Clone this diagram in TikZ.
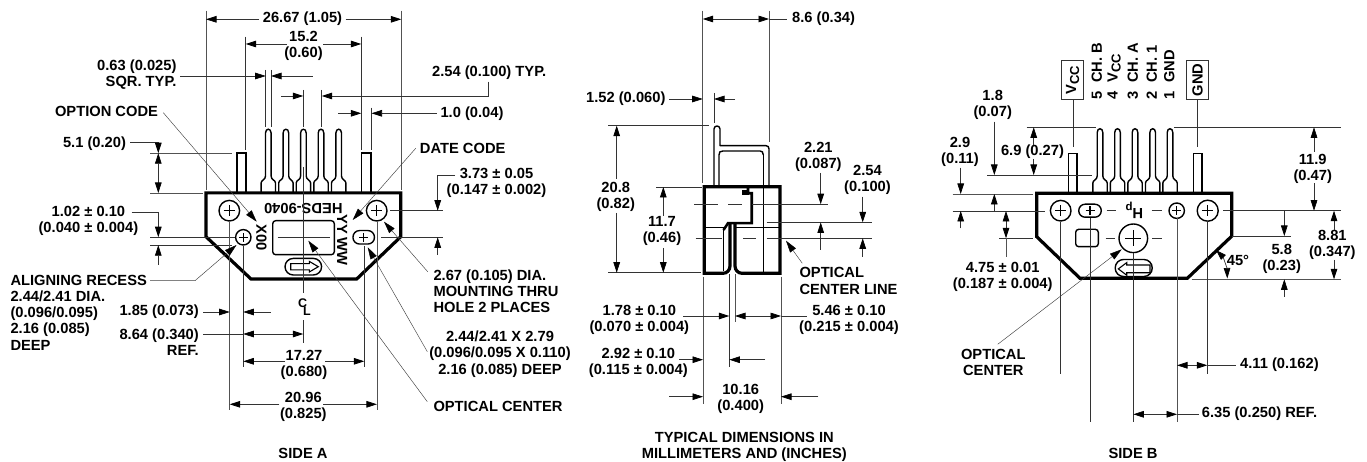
\documentclass[tikz,border=0pt]{standalone}
\usepackage{fontspec}
\setmainfont{Liberation Sans}
\usetikzlibrary{arrows.meta}
\newcommand{\pinshape}[3]{% centre, top, base
  \draw[pinl] (#1-7.2,#3) -- (#1-7.2,#3-10) .. controls (#1-7.2,#3-13) and (#1-2.8,#3-13) .. (#1-2.8,#3-17)
    -- (#1-2.8,#2+4) .. controls (#1-2.8,#2-1) and (#1+2.8,#2-1) .. (#1+2.8,#2+4)
    -- (#1+2.8,#3-17) .. controls (#1+2.8,#3-13) and (#1+7.2,#3-13) .. (#1+7.2,#3-10) -- (#1+7.2,#3);}
\newcommand{\plusm}[3]{\draw[pinl] (#1-#3,#2) -- (#1+#3,#2) (#1,#2-#3) -- (#1,#2+#3);}
\newcommand{\bolt}[3]{\draw[pinl] (#1,#2) circle[radius=#3pt]; \plusm{#1}{#2}{#3*0.55}}
\newcommand{\obr}[4]{\draw[pinl,rounded corners=#4*0.49pt] (#1-#3/2,#2-#4/2) rectangle (#1+#3/2,#2+#4/2);}
\begin{document}
\begin{tikzpicture}[x=1pt,y=-1pt,
  txt/.style={font=\fontsize{14.7}{16.2}\selectfont\bfseries,inner sep=0pt,align=center},
  txtl/.style={txt,align=left,anchor=west},
  txtr/.style={txt,align=right,anchor=east},
  dl/.style={line width=0.7pt,black!80},
  ext/.style={line width=0.8pt,black!68},
  ar/.style={dl,-{Triangle[length=10.5pt,width=6.6pt,black]}},
  aar/.style={dl,{Triangle[length=10.5pt,width=6.6pt,black]}-{Triangle[length=10.5pt,width=6.6pt,black]}},
  lead/.style={line width=0.45pt,black!75,-{Triangle[length=12pt,width=7pt,black]}},
  leadn/.style={line width=0.45pt,black!75},
  pinl/.style={line width=1.4pt,black},
  thick3/.style={line width=3.2pt,black,line join=miter},
  cl/.style={line width=0.8pt,black!80}]
\useasboundingbox (0,0) rectangle (1367,462);
\fill[white] (0,0) rectangle (1367,462);

%% ================= SIDE A =================
\foreach \c in {268.3,285.9,303.4,321,338.7}{\pinshape{\c}{129}{193}}
\draw[pinl] (236.9,193) -- (236.9,153) -- (246,153) -- (246,193);
\draw[pinl] (361.7,193) -- (361.7,153) -- (371,153) -- (371,193);
\draw[thick3] (206,192.9) -- (400.8,192.9) -- (400.8,236.7) -- (356.7,279) -- (251,279) -- (206,236.7) -- cycle;
\bolt{229.3}{210.7}{10.3}
\bolt{243.3}{237.3}{7.7}
\bolt{376.7}{210.7}{10.3}
\obr{363.7}{237.3}{21.5}{13.5}
\plusm{363.7}{237.3}{4.5}
\draw[pinl,rounded corners=3pt] (272.7,220.7) rectangle (334.3,254.7);
\obr{303.3}{266.7}{36.5}{16.5}
\draw[line width=1.1pt] (290.7,263.6) -- (309.3,263.6) -- (309.3,261.4) -- (318.3,266.7) -- (309.3,272) -- (309.3,269.8) -- (290.7,269.8) -- cycle;
\node[txt,rotate=180] (heds) at (303.3,209) {HEDS-9040};
\node[txt,rotate=-90] (xoo) at (261.5,237.7) {X00};
\node[txt,rotate=-90] (yyww) at (342.3,240) {YY WW};
% centre lines
\draw[cl] (303.3,90) -- (303.3,127) (303.3,167) -- (303.3,293);
\draw[cl] (303.3,320) -- (303.3,343);
\draw[cl] (277.7,237.3) -- (330,237.3);
\node[txt,font=\fontsize{12.5}{13}\selectfont\bfseries,anchor=base west] (clc) at (298,307.5) {C\hspace{-4.2pt}\raisebox{-7.5pt}{L}};
% extension lines
\draw[ext] (206,10.7) -- (206,190);
\draw[ext] (401.3,10.7) -- (401.3,190);
\draw[dl] (245.7,36.7) -- (245.7,150) (361.3,36.7) -- (361.3,150);
\draw[dl] (265.7,70) -- (265.7,127) (271,70) -- (271,127);
\draw[dl] (321.7,90) -- (321.7,127) (371.5,107.7) -- (371.5,150);
\draw[ext] (150,153.2) -- (232.3,153.2) (150,193) -- (202.7,193);
\draw[dl] (150,237.2) -- (235,237.2) (150,245.2) -- (232,245.2);
\draw[dl] (390,210.7) -- (443.3,210.7) (381,237.3) -- (443.3,237.3);
\draw[ext] (229.7,222) -- (229.7,410) (376.9,222) -- (376.9,410);
\draw[dl] (243.3,246) -- (243.3,366.7) (364.3,246) -- (364.3,366.7);
% 26.67
\node[txt] (a1) at (302.5,18.8) {26.67 (1.05)};
\draw[ar] (259,19.3) -- (206,19.3);
\draw[ar] (345.7,19.3) -- (401.3,19.3);
% 15.2
\node[txt] (a2) at (303.5,45.6) {15.2\\(0.60)};
\draw[ar] (286.7,44) -- (245.7,44);
\draw[ar] (323.3,44) -- (361.3,44);
% 0.63
\node[txtr] (a3) at (176.7,74.5) {0.63 (0.025)\\SQR. TYP.};
\draw[ar] (180,76) -- (265.7,76);
\draw[ar] (312.7,76) -- (271,76);
% 2.54 typ
\node[txt] (a4) at (489.2,73) {2.54 (0.100) TYP.};
\draw[ar] (488.3,81.7) -- (488.3,96) -- (321.7,96);
\draw[ar] (281,96) -- (303.3,96);
% 1.0
\node[txt] (a5) at (472,113.6) {1.0 (0.04)};
\draw[ar] (436.7,113.3) -- (371.5,113.3);
\draw[ar] (338.3,113.3) -- (361.3,113.3);
% date code
\node[txt] (a6) at (462.7,148) {DATE CODE};
\draw[lead] (415.7,148.3) -- (352.7,220);
% 3.73
\node[txt] (a7) at (496.5,182.6) {3.73 ± 0.05\\(0.147 ± 0.002)};
\draw[ar] (455,175.7) -- (437.7,175.7) -- (437.7,210.7);
\draw[ar] (437.7,255) -- (437.7,237.3);
% option code
\node[txt] (a8) at (106.5,111.4) {OPTION CODE};
\draw[lead] (163.3,112.7) -- (256.7,221.7);
% 5.1
\node[txt] (a9) at (94.5,143.6) {5.1 (0.20)};
\draw[ar] (130,142.3) -- (158.3,142.3) -- (158.3,153.2);
\draw[aar] (158.3,153.2) -- (158.3,193);
% 1.02
\node[txt] (a10) at (88.4,221) {1.02 ± 0.10\\(0.040 ± 0.004)};
\draw[ar] (131.7,212) -- (158.3,212) -- (158.3,237.2);
\draw[ar] (158.3,265) -- (158.3,245.2);
% aligning recess
\node[txtl] (a11) at (10.3,312.5) {ALIGNING RECESS\\2.44/2.41 DIA.\\(0.096/0.095)\\2.16 (0.085)\\DEEP};
\draw[lead] (150,280.7) -- (195,280.7) -- (236.5,245);
% 1.85
\node[txtr] (a12) at (199,311.3) {1.85 (0.073)};
\draw[ar] (203.3,312) -- (229.7,312);
\draw[ar] (270.7,312) -- (243.3,312);
% 8.64
\node[txtr] (a13) at (199,342.4) {8.64 (0.340)\\REF.};
\draw[aar] (243.3,334) -- (303.3,334);
\draw[dl] (203,334) -- (243.3,334);
% 17.27
\node[txt] (a14) at (304,364.8) {17.27\\(0.680)};
\draw[ar] (285,361.3) -- (243.3,361.3);
\draw[ar] (325,361.3) -- (364.3,361.3);
% 20.96
\node[txt] (a15) at (303.3,406.6) {20.96\\(0.825)};
\draw[ar] (279.3,404.3) -- (229.7,404.3);
\draw[ar] (323.3,404.3) -- (376.9,404.3);
% 2.67
\node[txtl] (a16) at (433.3,291) {2.67 (0.105) DIA.\\MOUNTING THRU\\HOLE 2 PLACES};
\draw[lead] (427.7,271.7) -- (384,221.7);
% 2.44
\node[txt] (a17) at (500,354) {2.44/2.41 X 2.79\\(0.096/0.095 X 0.110)\\2.16 (0.085) DEEP};
\draw[lead] (427.3,351.7) -- (367.7,247.3);
% optical center
\node[txtl] (a18) at (433.3,406.4) {OPTICAL CENTER};
\draw[lead] (427.3,401.7) -- (308.3,240.7);
\node[txt] (sidea) at (303,453) {SIDE A};

%% ================= SIDE VIEW =================
\draw[pinl,line join=round] (714,186.7) -- (714,129) .. controls (714,125) and (720,125) .. (720,129) -- (720,145.7) -- (766,145.7) .. controls (768,145.7) and (769,147) .. (769,149) -- (769,186.7);
\draw[pinl] (719,186.7) -- (719,155) .. controls (719,152) and (720,151) .. (723,151) -- (760,151) .. controls (762,151) and (763.3,152) .. (763.3,155);
\draw[line width=1pt] (763.3,155) -- (763.3,273);
\draw[line width=1pt] (704.3,227.3) -- (723.5,227.3) (735,227.3) -- (780,227.3);
\draw[line width=1.2pt] (723.5,229) -- (723.5,271);
\draw[thick3] (735,223) -- (735,266) .. controls (735,270) and (738,273.3) .. (742,273.3) -- (780,273.3) -- (780,186.7) -- (704.3,186.7) -- (704.3,273.3) -- (723,273.3) .. controls (727,273.3) and (730,270) .. (730,266) -- (730,223);
\draw[line width=2.6pt,line join=miter] (723.5,230) -- (728,223.2) -- (751.7,223.2) -- (751.7,193.3) -- (748,193.3) -- (748,187);
\fill (741.7,190) rectangle (749,194.6);
% centre lines
\draw[dl] (694,204.2) -- (718,204.2) (728,204.2) -- (741.7,204.2) (751.7,204.2) -- (828,204.2);
\draw[dl] (766.7,222.4) -- (871.7,222.4);
\draw[dl] (695.7,238.3) -- (722,238.3) (743,238.3) -- (756,238.3) (766.7,238.3) -- (871.7,238.3);
% extension
\draw[ext] (702.7,10.7) -- (702.7,182.7) (769,10.7) -- (769,141.7);
\draw[dl] (714,93) -- (714,122.7);
\draw[dl] (608.3,125.7) -- (709,125.7) (608.3,272.7) -- (701,272.7) (656,187) -- (701.7,187);
\draw[ext] (703,276.7) -- (703,404) (781,276.7) -- (781,404);
\draw[dl] (729.3,274.3) -- (729.3,366.7);
\draw[ext] (735,274.3) -- (735,321.7);
% 8.6
\node[txt] (m1) at (823.6,18.8) {8.6 (0.34)};
\draw[aar] (702.7,19) -- (769,19);
\draw[dl] (769,19) -- (787.3,19);
% 1.52
\node[txt] (m2) at (625.8,99) {1.52 (0.060)};
\draw[ar] (669.3,99) -- (702.7,99);
\draw[ar] (735,99) -- (714,99);
% 20.8
\node[txt] (m3) at (615.7,196.6) {20.8\\(0.82)};
\draw[ar] (616.7,179) -- (616.7,125.7);
\draw[ar] (616.7,213) -- (616.7,272.7);
% 11.7
\node[txt] (m4) at (662,230.8) {11.7\\(0.46)};
\draw[ar] (663.3,216) -- (663.3,187);
\draw[ar] (663.3,248) -- (663.3,272.7);
% 2.21
\node[txt] (m5) at (818.3,157) {2.21\\(0.087)};
\draw[ar] (820.7,173) -- (820.7,204.2);
\draw[ar] (820.7,250) -- (820.7,222.4);
% 2.54
\node[txt] (m6) at (867.5,180) {2.54\\(0.100)};
\draw[ar] (862.7,196.7) -- (862.7,222.4);
\draw[ar] (862.7,256.7) -- (862.7,238.3);
% optical center line
\node[txtl] (m7) at (799.3,281) {OPTICAL\\CENTER LINE};
\draw[lead] (802.3,263.3) -- (786,240.7);
% 1.78
\node[txt] (m8) at (639.3,319.7) {1.78 ± 0.10\\(0.070 ± 0.004)};
\draw[ar] (683.3,316) -- (729.3,316);
% 5.46
\node[txt] (m9) at (849,319.7) {5.46 ± 0.10\\(0.215 ± 0.004)};
\draw[aar] (735,316) -- (781,316);
\draw[dl] (781,316) -- (806.7,316);
% 2.92
\node[txt] (m10) at (638.3,362.5) {2.92 ± 0.10\\(0.115 ± 0.004)};
\draw[ar] (679.3,359.7) -- (703,359.7);
\draw[ar] (765,359.7) -- (729.3,359.7);
% 10.16
\node[txt] (m11) at (740.7,398.7) {10.16\\(0.400)};
\draw[ar] (669.3,396.7) -- (703,396.7);
\draw[ar] (818.3,396.7) -- (781,396.7);
\node[txt] (m12) at (744.3,447) {TYPICAL DIMENSIONS IN\\MILLIMETERS AND (INCHES)};

%% ================= SIDE B =================
\foreach \c in {1100,1117.5,1135,1152.7,1170}{\pinshape{\c}{128.5}{193}}
\draw[pinl] (1068.3,193) -- (1068.3,153.3) -- (1077,153.3) -- (1077,193);
\draw[pinl] (1193.3,193) -- (1193.3,153.3) -- (1202,153.3) -- (1202,193);
\draw[thick3] (1036.7,193.3) -- (1231.7,193.3) -- (1231.7,236.2) -- (1187.3,278.3) -- (1080,278.3) -- (1036.7,236.7) -- cycle;
\bolt{1060.7}{210.7}{10.3}
\obr{1090}{210.7}{22.5}{13}
\plusm{1090}{210.7}{4.5}
\bolt{1176.7}{210.7}{7.7}
\bolt{1207.7}{210.7}{10.5}
\bolt{1133.3}{238.3}{14.3}
\draw[pinl,rounded corners=3pt] (1075.7,229.3) rectangle (1098.3,246.7);
\obr{1133.7}{268}{37}{17}
\draw[line width=1.1pt] (1150,265) -- (1126.7,265) -- (1126.7,262.6) -- (1118.3,268.9) -- (1126.7,275.2) -- (1126.7,272.7) -- (1150,272.7) -- cycle;
\node[txt,rotate=180] (hp) at (1134.3,210.3) {H\raisebox{-3.5pt}{\fontsize{11.5}{12}\selectfont p}};
% centre lines
\draw[dl] (1036.7,210.9) -- (1045,210.9) (1106.7,210.7) -- (1115.5,210.7) (1151.7,210.7) -- (1161.7,210.7) (1223.3,210.7) -- (1340.7,210.7);
\draw[dl] (1105.7,238.3) -- (1115,238.3) (1152,238.3) -- (1161.7,238.3);
% labels on top
\draw[dl] (1061.7,60.7) rectangle (1083.3,99.3);
\node[txt,rotate=90] (bvcc) at (1072.5,80) {V\raisebox{-3pt}{\fontsize{13}{13}\selectfont CC}};
\draw[dl] (1186.7,60.7) rectangle (1208.3,99.3);
\node[txt,rotate=90] (bgnd) at (1197.5,80) {GND};
\draw[dl] (1073.7,99.3) -- (1073.7,147.3) (1197,99.3) -- (1197,147.3);
\node[txt,rotate=90,anchor=west] (p5) at (1096.7,99.3) {5\ \ CH. B};
\node[txt,rotate=90,anchor=west] (p4) at (1114.2,99.3) {4\ \ V\raisebox{-3pt}{\fontsize{13}{13}\selectfont CC}};
\node[txt,rotate=90,anchor=west] (p3) at (1132.7,99.3) {3\ \ CH. A};
\node[txt,rotate=90,anchor=west] (p2) at (1151.7,99.3) {2\ \ CH. 1};
\node[txt,rotate=90,anchor=west] (p1) at (1169.3,99.3) {1\ \ GND};
% horizontal ext
\draw[dl] (1026.7,127.3) -- (1096,127.3) (1174,127.3) -- (1340.7,127.3);
\draw[dl] (987.3,175) -- (1091.7,175);
\draw[ext] (952.7,194) -- (1033.3,194);
\draw[dl] (952.7,211) -- (1036.7,211);
\draw[dl] (999,238.3) -- (1033.3,238.3);
\draw[dl] (1231.7,236) -- (1291,236);
\draw[ext] (1191.7,279.3) -- (1340.7,279.3);
% vertical ext
\draw[dl] (1060.7,222) -- (1060.7,374) (1090.3,218) -- (1090.3,421.7) (1133.3,253) -- (1133.3,421.7) (1207.3,221) -- (1207.3,374);
\draw[ext] (1177,218.5) -- (1177,421.7);
% 1.8
\node[txt] (b1) at (992.7,104.7) {1.8\\(0.07)};
\draw[ar] (994.3,121.7) -- (994.3,175);
\draw[ar] (994.3,211) -- (994.3,194);
% 6.9
\node[txt] (b2) at (1032.5,152) {6.9 (0.27)};
\draw[ar] (1033.7,145) -- (1033.7,127.3);
\draw[ar] (1033.7,159) -- (1033.7,175);
% 2.9
\node[txt] (b3) at (960,151.6) {2.9\\(0.11)};
\draw[ar] (960.7,167.7) -- (960.7,194);
\draw[ar] (960.7,228.3) -- (960.7,211);
% 4.75
\node[txt] (b4) at (1002.7,277) {4.75 ± 0.01\\(0.187 ± 0.004)};
\draw[aar] (1006,211) -- (1006,238.3);
\draw[ext] (1006,238.3) -- (1006,256.7);
% optical center
\node[txt] (b5) at (993.3,362.3) {OPTICAL\\CENTER};
\draw[lead] (997.7,344.3) -- (1121.7,249.3);
% 4.11
\node[txtl] (b6) at (1240,364.7) {4.11 (0.162)};
\draw[aar] (1177,365.3) -- (1207.3,365.3);
\draw[dl] (1207.3,365.3) -- (1236,365.3);
% 6.35
\node[txtl] (b7) at (1201.7,414) {6.35 (0.250) REF.};
\draw[aar] (1133.3,414.3) -- (1177,414.3);
\draw[dl] (1177,414.3) -- (1199.3,414.3);
\node[txt] (sideb) at (1133,453) {SIDE B};
% 11.9
\node[txt] (b8) at (1312.7,168.7) {11.9\\(0.47)};
\draw[ar] (1314,151.7) -- (1314,127.3);
\draw[ar] (1314,183.3) -- (1314,210.7);
% 8.81
\node[txt] (b9) at (1332.3,245) {8.81\\(0.347)};
\draw[ar] (1334,230) -- (1334,210.7);
\draw[ar] (1334,260) -- (1334,279.3);
% 5.8
\node[txt] (b10) at (1281.7,258.7) {5.8\\(0.23)};
\draw[ar] (1284.3,210.7) -- (1284.3,236);
\draw[ar] (1284.3,296.7) -- (1284.3,279.3);
% 45
\node[txt] (b11) at (1238,260.4) {45°};
\draw[aar,line width=0.7pt] (1216,250) .. controls (1223,257) and (1227,268) .. (1227.3,278.5);
\end{tikzpicture}
\end{document}
